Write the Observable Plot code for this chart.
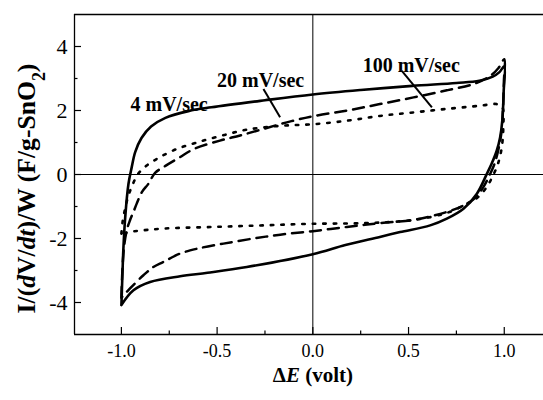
<!DOCTYPE html>
<html>
<head>
<meta charset="utf-8">
<script src="https://cdn.jsdelivr.net/npm/d3@7"></script>
<script src="https://cdn.jsdelivr.net/npm/@observablehq/plot@0.6"></script>
<style>
  html, body { margin: 0; padding: 0; background: #fff; }
  #chart svg { display: block; }
</style>
</head>
<body>
<div id="chart"></div>
<script>
// ---- axes ----
const xDomain = [-1.245, 1.205];
const yDomain = [-5, 5];
const xMajor = [-1, -0.5, 0, 0.5, 1];
const xMinor = [-0.75, -0.25, 0.25, 0.75];
const yMajor = [-4, -2, 0, 2, 4];
const yMinor = [-3, -1, 1, 3];

// ---- 4 mV/sec (solid) ----
const solidX = [-1.0, -0.995, -0.99, -0.98, -0.963, -0.946, -0.928, -0.895, -0.845, -0.77, -0.65, -0.53, -0.25, 0.0, 0.25, 0.52, 0.75, 0.87, 0.94, 0.975, 1.0,
  0.997, 0.99, 0.978, 0.961, 0.935, 0.909, 0.857, 0.787, 0.7, 0.613, 0.456, 0.35, 0.17, 0.0, -0.345, -0.55, -0.693, -0.85, -0.937, -1.0];
const solidY = [-4.08, -3.2, -2.37, -1.33, -0.29, 0.23, 0.7, 1.14, 1.5, 1.77, 1.98, 2.1, 2.32, 2.5, 2.64, 2.77, 2.86, 2.93, 3.06, 3.2, 3.38,
  2.6, 1.7, 1.15, 0.75, 0.35, 0.02, -0.6, -1.07, -1.38, -1.59, -1.8, -1.95, -2.2, -2.49, -2.89, -3.07, -3.18, -3.36, -3.62, -4.08];

// ---- 20 mV/sec (dashed) ----
const dashX = [-1.0, -0.995, -0.985, -0.97, -0.955, -0.937, -0.92, -0.893, -0.859, -0.824, -0.77, -0.7, -0.62, -0.485, -0.38, -0.26, -0.136, 0.0, 0.18, 0.35, 0.526, 0.7, 0.84, 0.927, 0.97, 1.0,
  0.998, 0.993, 0.985, 0.97, 0.95, 0.925, 0.89, 0.85, 0.787, 0.7, 0.526, 0.35, 0.178, 0.0, -0.17, -0.31, -0.467, -0.606, -0.693, -0.78, -0.833, -0.885, -0.955, -1.0];
const dashY = [-3.85, -3.0, -2.2, -1.7, -1.43, -1.17, -0.91, -0.55, -0.29, 0.05, 0.27, 0.52, 0.8, 1.06, 1.22, 1.42, 1.63, 1.82, 2.0, 2.2, 2.41, 2.63, 2.83, 3.08, 3.33, 3.6,
  2.9, 2.0, 1.3, 0.8, 0.35, 0.0, -0.4, -0.72, -0.97, -1.17, -1.42, -1.52, -1.64, -1.77, -1.88, -2.0, -2.16, -2.32, -2.47, -2.73, -2.89, -3.15, -3.56, -3.85];

// ---- 100 mV/sec (dotted) ----
const dotX = [-1.0, -0.993, -0.98, -0.963, -0.94, -0.915, -0.868, -0.8, -0.71, -0.606, -0.485, -0.345, -0.17, 0.0, 0.178, 0.35, 0.526, 0.7, 0.875, 0.96, 0.99,
  0.995, 0.987, 0.968, 0.94, 0.905, 0.86, 0.8, 0.7, 0.526, 0.265, 0.0, -0.258, -0.52, -0.78, -0.938, -1.0];
const dotY = [-1.85, -1.45, -1.05, -0.65, -0.3, 0.0, 0.28, 0.54, 0.8, 1.0, 1.2, 1.4, 1.52, 1.57, 1.68, 1.83, 1.94, 2.05, 2.15, 2.2, 2.1,
  1.5, 0.85, 0.35, -0.05, -0.42, -0.72, -0.93, -1.2, -1.42, -1.52, -1.54, -1.59, -1.64, -1.69, -1.78, -1.85];

// ---- curve labels and leader lines ----
const labelText = ["4 mV/sec", "20 mV/sec", "100 mV/sec"];
const labelX = [-0.751, -0.273, 0.514];
const labelY = [2.19, 2.94, 3.41];
const leaderX1 = [-0.258, 0.465];
const leaderY1 = [2.67, 3.24];
const leaderX2 = [-0.171, 0.622];
const leaderY2 = [1.79, 2.10];

const toPts = (xs, ys) => xs.map((x, i) => ({x, y: ys[i]}));
const solid = toPts(solidX, solidY);
const dashed = toPts(dashX, dashY);
const dotted = toPts(dotX, dotY);
const labels = labelText.map((t, i) => ({t, x: labelX[i], y: labelY[i]}));
const leaders = leaderX1.map((x1, i) => ({x1, y1: leaderY1[i], x2: leaderX2[i], y2: leaderY2[i]}));

const W = 543, H = 400, mL = 74, mR = 0, mT = 14, mB = 66;
const plotW = W - mL - mR, plotH = H - mT - mB;
const serif = "'Liberation Serif', 'Times New Roman', serif";

const plot = Plot.plot({
  width: W, height: H,
  marginLeft: mL, marginRight: mR, marginTop: mT, marginBottom: mB,
  x: {domain: xDomain},
  y: {domain: yDomain},
  style: {fontFamily: serif, background: "#fff", color: "#000"},
  marks: [
    // frame (left, top, bottom)
    Plot.ruleX([xDomain[0]], {strokeWidth: 1.3}),
    Plot.ruleY([yDomain[0], yDomain[1]], {strokeWidth: 1.3}),
    // zero lines
    Plot.ruleX([0], {strokeWidth: 1}),
    Plot.ruleY([0], {strokeWidth: 1}),
    // inward ticks
    Plot.ruleX(xMajor, {x: d => d, insetTop: plotH - 7, strokeWidth: 1.2}),
    Plot.ruleX(xMinor, {x: d => d, insetTop: plotH - 3.5, strokeWidth: 1.2}),
    Plot.ruleY(yMajor, {y: d => d, insetRight: plotW - 7, strokeWidth: 1.2}),
    Plot.ruleY(yMinor, {y: d => d, insetRight: plotW - 3.5, strokeWidth: 1.2}),
    // tick labels
    Plot.axisX(xMajor, {tickSize: 0, tickPadding: 10, tickFormat: d => d.toFixed(1), fontSize: 18, label: null}),
    Plot.axisY(yMajor, {tickSize: 0, tickPadding: 7, tickFormat: d => String(d), fontSize: 22, label: null}),
    // curves
    Plot.line(solid, {x: "x", y: "y", stroke: "#000", strokeWidth: 2.6, curve: "catmull-rom"}),
    Plot.line(dashed, {x: "x", y: "y", stroke: "#000", strokeWidth: 2.5, strokeDasharray: "11,7", curve: "catmull-rom"}),
    Plot.line(dotted, {x: "x", y: "y", stroke: "#000", strokeWidth: 2.6, strokeDasharray: "2.5,8", curve: "catmull-rom"}),
    // leader lines
    Plot.link(leaders, {x1: "x1", y1: "y1", x2: "x2", y2: "y2", stroke: "#000", strokeWidth: 2}),
    // labels
    Plot.text(labels, {x: "x", y: "y", text: "t", fontSize: 20, fontWeight: "bold", fill: "#000"}),
    // axis titles
    Plot.text(["YTITLE"], {frameAnchor: "left", textAnchor: "middle", dx: -48, dy: 14, rotate: -90, fontSize: 22, fontWeight: "bold", fill: "#000"}),
    Plot.text(["XTITLE"], {x: () => 0, frameAnchor: "bottom", dy: 47, fontSize: 21, fontWeight: "bold", fill: "#000"})
  ]
});

function richText(sel, parts) {
  sel.text(null);
  for (const [t, s] of parts) {
    const ts = sel.append("tspan").text(t);
    if (s === "i") ts.attr("font-style", "italic");
    if (s === "sub") ts.attr("baseline-shift", "sub").attr("font-size", "70%");
  }
}
const svg = d3.select(plot);
const findText = (s) => svg.selectAll("text").filter(function () { return this.textContent === s; });
const yTitle = findText("YTITLE");
richText(yTitle, [
  ["I/(", ""], ["d", "i"], ["V/", ""], ["dt", "i"], [")/W (F/g-SnO", ""], ["2", "sub"], [")", ""]
]);
richText(findText("XTITLE"), [
  ["\u0394", ""], ["E", "i"], [" (volt)", ""]
]);

document.getElementById("chart").appendChild(plot);

// fit the rotated y title to the reference length
const node = yTitle.node();
if (node) {
  const L = node.getComputedTextLength();
  const target = 250;
  if (L > 0 && Math.abs(L - target) > 4) {
    const fs = Math.max(14, Math.min(26, 22 * target / L));
    yTitle.attr("font-size", fs);
  }
}
</script>
</body>
</html>
